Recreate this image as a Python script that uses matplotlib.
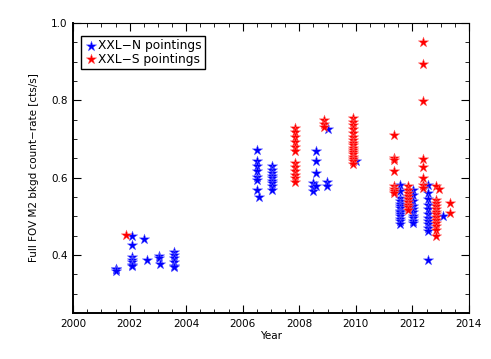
import matplotlib
matplotlib.use("Agg")
import matplotlib.pyplot as plt
from matplotlib.ticker import MultipleLocator

# XXL-N pointings: (year, count-rates)
north_groups = [
    (2001.50, [0.363, 0.365, 0.360]),
    (2002.09, [0.450, 0.425, 0.394, 0.388, 0.381, 0.375, 0.372]),
    (2002.52, [0.441]),
    (2002.62, [0.388]),
    (2003.03, [0.397, 0.393]),
    (2003.08, [0.376]),
    (2003.56, [0.407, 0.399, 0.392, 0.381, 0.371, 0.368]),
    (2006.49, [0.672, 0.642, 0.629, 0.616, 0.603, 0.595, 0.569]),
    (2006.59, [0.550]),
    (2007.02, [0.629, 0.620, 0.612, 0.604, 0.598, 0.592, 0.585, 0.578, 0.569]),
    (2008.50, [0.587, 0.575, 0.565]),
    (2008.59, [0.668, 0.642, 0.612, 0.578]),
    (2008.98, [0.590, 0.579]),
    (2009.02, [0.726]),
    (2010.00, [0.644]),
    (2011.58, [0.582, 0.565, 0.548, 0.540, 0.533, 0.527, 0.521, 0.515, 0.510,
               0.505, 0.500, 0.494, 0.488, 0.479]),
    (2012.03, [0.569, 0.555, 0.540, 0.528, 0.518, 0.510, 0.502, 0.495, 0.488, 0.484]),
    (2012.56, [0.582, 0.560, 0.545, 0.530, 0.518, 0.505, 0.495, 0.488, 0.480,
               0.470, 0.462, 0.386]),
    (2013.09, [0.502]),
]

# XXL-S pointings
south_groups = [
    (2001.88, [0.453]),
    (2007.85, [0.729, 0.718, 0.705, 0.693, 0.680, 0.668, 0.639, 0.628, 0.618,
               0.608, 0.598, 0.590]),
    (2008.87, [0.750, 0.740, 0.730]),
    (2009.91, [0.755, 0.745, 0.735, 0.725, 0.715, 0.705, 0.698, 0.690, 0.684,
               0.678, 0.672, 0.666, 0.660, 0.654, 0.648, 0.642, 0.636]),
    (2011.36, [0.711, 0.651, 0.646, 0.618, 0.579, 0.572, 0.566, 0.560]),
    (2011.85, [0.578, 0.568, 0.560, 0.552, 0.545, 0.538, 0.530, 0.523, 0.517]),
    (2012.38, [0.952, 0.893, 0.797, 0.649, 0.628, 0.599, 0.582, 0.573]),
    (2012.85, [0.578, 0.543, 0.535, 0.528, 0.520, 0.512, 0.505, 0.498, 0.490,
               0.482, 0.475, 0.466, 0.449]),
    (2012.95, [0.572]),
    (2013.33, [0.535, 0.509]),
]


def flatten(groups):
    xs, ys = [], []
    for yr, vals in groups:
        xs += [yr] * len(vals)
        ys += vals
    return xs, ys


nx_, ny_ = flatten(north_groups)
sx_, sy_ = flatten(south_groups)

plt.rcParams["font.family"] = ["DejaVu Sans"]

fig = plt.figure(figsize=(4.91, 3.59), dpi=100)
ax = fig.add_axes([0.149, 0.128, 0.806, 0.808])

ax.scatter(nx_, ny_, marker="*", s=62, color="#0000ff", edgecolors="#7070ff",
           linewidths=0.3, label="XXL\u2212N pointings", zorder=3)
ax.scatter(sx_, sy_, marker="*", s=62, color="#ff0000", edgecolors="#ff7070",
           linewidths=0.3, label="XXL\u2212S pointings", zorder=3)

ax.set_xlim(2000, 2014)
ax.set_ylim(0.25, 1.0)
ax.xaxis.set_major_locator(MultipleLocator(2))
ax.xaxis.set_minor_locator(MultipleLocator(0.5))
ax.yaxis.set_major_locator(MultipleLocator(0.2))
ax.yaxis.set_minor_locator(MultipleLocator(0.05))
ax.set_yticks([0.4, 0.6, 0.8, 1.0])
ax.set_yticklabels(["0.4", "0.6", "0.8", "1.0"])

ax.tick_params(which="both", direction="in", top=True, right=True,
               labelsize=7.5, colors="black", pad=4)
ax.tick_params(which="major", length=6, width=0.8)
ax.tick_params(which="minor", length=3, width=0.6)
for side in ["top", "right"]:
    ax.spines[side].set_linewidth(0.8)
for side in ["left", "bottom"]:
    ax.spines[side].set_linewidth(1.4)

ax.set_xlabel("Year", fontsize=7.5, labelpad=2)
ax.set_ylabel("Full FOV M2 bkgd count\u2212rate [cts/s]", fontsize=7.5, labelpad=9)

leg = ax.legend(loc="upper left", fontsize=8.8, handletextpad=0.1,
                handlelength=1.0, borderpad=0.25, labelspacing=0.05,
                fancybox=False, framealpha=1, edgecolor="black",
                bbox_to_anchor=(0.021, 0.955), borderaxespad=0, scatterpoints=1)
leg.get_frame().set_linewidth(1.0)

fig.savefig("out.png", dpi=100)
